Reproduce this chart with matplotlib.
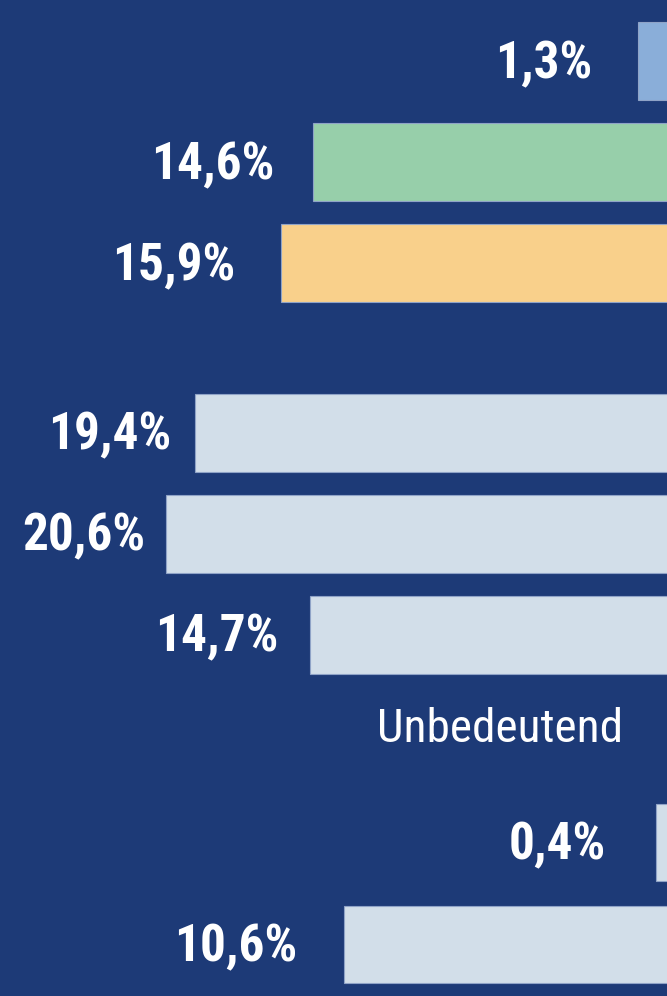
import matplotlib
matplotlib.use("Agg")
import matplotlib.pyplot as plt

# --- data ---
top_values = [1.3, 14.6, 15.9, 19.4, 20.6, 14.7]
top_colors = ["#8AAED9", "#97CFAA", "#F9D08B", "#D2DEE9", "#D2DEE9", "#D2DEE9"]
bottom_values = [0.4, 10.6]
bottom_title = "Unbedeutend"

BG = "#1D3A77"
EDGE = "#8FA3C7"
W, H = 667, 996
FONT = ["Roboto Condensed", "DejaVu Sans"]

fig = plt.figure(figsize=(W / 100, H / 100), dpi=100, facecolor=BG)


def px_axes(x0, x1, y0, y1):
    # axes rect given in figure pixels (top-down y)
    return fig.add_axes([x0 / W, 1 - y1 / H, (x1 - x0) / W, (y1 - y0) / H])


def pct(v):
    return f"{v:.1f}".replace(".", ",") + "%"


def style(ax):
    ax.set_facecolor("none")
    ax.axis("off")


def label(ax, v, y, pad):
    # caps roughly centred on the bar
    ax.annotate(pct(v), xy=(v, y), xytext=(-pad, -17), textcoords="offset pixels",
                ha="right", va="baseline", color="white", fontsize=37,
                fontweight="bold", family=FONT)


# top panel: two groups of three bars
pitch, gap, first = 101, 1.68, 61
ax = px_axes(0, 669.8, 0, 707)
style(ax)
ys = [i + (gap - 1 if i >= 3 else 0) for i in range(len(top_values))]
ax.barh(ys, top_values, height=0.77, color=top_colors, edgecolor=EDGE, linewidth=0.8)
ax.set_xlim(669.8 / 24.46, 0)
ax.set_ylim(707 / pitch - first / pitch, -first / pitch)
for y, v, p in zip(ys, top_values, [46, 38, 46, 24, 21, 32]):
    label(ax, v, y, p)

# bottom panel
fig.text(500 / W, 1 - 742 / H, bottom_title, ha="center", va="baseline",
         color="white", fontsize=34, family=FONT)
ax2 = px_axes(0, 668, 760, 996)
style(ax2)
yb = list(range(len(bottom_values)))
ax2.barh(yb, bottom_values, height=0.76, color="#D2DEE9", edgecolor=EDGE, linewidth=0.8)
ax2.set_xlim(668 / 30.6, 0)
ax2.set_ylim((996 - 842.5) / 102, (760 - 842.5) / 102)
for y, v, p in zip(yb, bottom_values, [50, 46]):
    label(ax2, v, y, p)

fig.savefig("out.png", dpi=100, facecolor=BG)
